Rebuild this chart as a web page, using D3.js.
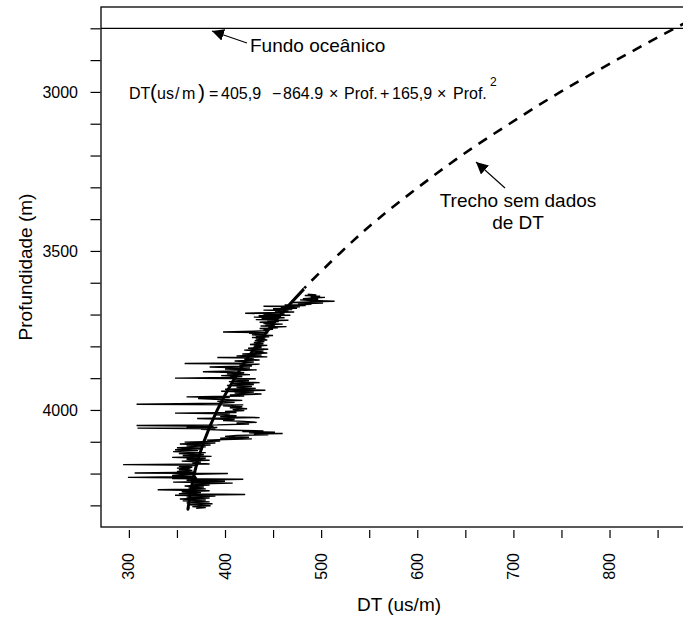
<!DOCTYPE html>
<html>
<head>
<meta charset="utf-8">
<script src="https://cdn.jsdelivr.net/npm/d3@7"></script>
<style>
  body { margin: 0; background: #fff; }
  text { font-family: "Liberation Sans", Arial, Helvetica, sans-serif; fill: #000; }
</style>
</head>
<body>
<svg id="chart" width="683" height="617"></svg>
<script>
// ---- Axis limits and ticks ----
const xLimits = [271, 891];          // DT (us/m)
const yLimits = [2733, 4368];        // depth (m), increasing downwards
const xTicks = [300, 350, 400, 450, 500, 550, 600, 650, 700, 750, 800, 850];
const xTickLabels = [300, 400, 500, 600, 700, 800];
const yTicks = [2800, 2900, 3000, 3100, 3200, 3300, 3400, 3500, 3600, 3700, 3800, 3900, 4000, 4100, 4200, 4300];
const yTickLabels = [3000, 3500, 4000];

// Sea floor depth (m)
const seaFloorDepth = 2800;

// ---- Fitted compaction trend: depth (m) -> DT (us/m) ----
// interval without sonic data (dashed)
const trendGapDepth = [2700, 2800, 2900, 3000, 3100, 3200, 3300, 3400, 3500, 3600, 3620];
const trendGapDT    = [933, 868, 807, 749, 696, 646, 601, 559, 522, 488, 482];
// interval covered by the sonic log (solid)
const trendLogDepth = [3620, 3700, 3800, 3900, 4000, 4100, 4200, 4300, 4306];
const trendLogDT    = [482, 458, 432, 410, 392, 378, 368, 362, 362];

// ---- Sonic log samples: [depth (m), DT (us/m)] ----
const sonicLog = [
  [3636,486],[3638,495],[3640,483],[3642,499],[3644,489],[3646,504],[3648,492],[3650,481],
  [3652,497],[3654,478],[3656,490],[3658,514],[3660,488],[3662,470],[3664,502],[3666,476],
  [3668,490],[3670,462],[3672,484],[3674,440],[3676,478],[3678,458],[3680,475],[3682,450],
  [3684,470],[3686,440],[3688,466],[3690,452],[3692,472],[3694,446],[3696,421],[3698,462],
  [3700,440],[3702,468],[3704,435],[3706,458],[3708,430],[3710,462],[3712,438],[3714,455],
  [3716,432],[3718,466],[3720,444],[3722,456],[3724,436],[3726,450],[3728,440],[3730,460],
  [3732,442],[3734,452],[3736,437],[3738,464],[3740,446],[3742,455],[3744,436],[3746,450],
  [3748,440],[3750,446],[3752,430],[3755,398],[3757,445],[3759,425],[3761,440],
  [3764,428],[3766,450],[3768,432],[3770,446],[3772,428],[3774,442],[3777,432],[3780,444],
  [3782,431],[3785,441],[3788,430],[3791,440],[3794,426],[3797,444],[3800,430],[3803,438],
  [3806,424],[3809,445],[3812,420],[3815,440],[3818,428],[3821,444],
  [3824,418],[3827,438],[3830,412],[3833,444],[3835,392],[3837,430],[3840,420],[3843,436],
  [3846,410],[3849,430],[3852,418],[3854,358],[3856,436],[3859,415],[3862,428],
  [3865,384],[3868,426],[3871,400],[3874,433],[3877,410],[3880,377],[3883,420],[3886,402],
  [3889,426],[3892,396],[3895,418],[3898,405],[3900,348],[3902,432],[3905,410],
  [3908,425],[3911,404],[3914,436],[3917,408],[3920,430],[3923,402],[3926,428],[3929,412],
  [3932,432],[3935,400],[3938,442],[3941,396],[3944,430],[3947,410],[3950,438],[3953,405],
  [3956,420],[3959,360],[3961,405],[3964,372],[3967,396],
  [3970,418],[3973,392],[3976,410],[3979,395],[3982,308],[3984,419],[3987,398],[3990,418],
  [3993,405],[3996,423],[3999,408],[4002,420],[4005,400],[4008,412],[4010,348],[4012,405],
  [4015,390],[4018,412],[4021,395],[4024,436],[4027,371],[4030,410],[4033,398],[4036,420],
  [4039,433],[4041,412],[4044,425],[4047,392],[4049,308],[4051,388],[4053,360],[4055,392],
  [4057,309],[4059,390],[4061,375],
  [4064,405],[4066,440],[4068,418],[4070,452],[4072,425],[4074,460],[4076,430],[4078,445],
  [4080,412],[4083,400],[4086,425],[4089,395],[4091,428],[4093,400],[4095,381],
  [4098,395],[4101,358],[4104,390],[4107,353],[4110,385],[4113,360],[4116,380],[4119,350],
  [4122,377],[4125,348],[4128,372],[4131,346],[4134,380],[4137,352],[4140,378],[4143,356],
  [4146,386],[4149,345],[4152,380],[4155,360],[4158,384],[4161,355],[4164,375],
  [4167,366],[4170,384],[4172,294],[4174,372],[4177,352],[4180,366],[4183,350],[4185,364],
  [4188,352],[4190,366],[4193,350],[4196,370],[4198,306],[4200,403],[4203,356],
  [4206,345],[4209,370],[4212,299],[4214,371],[4216,345],[4218,419],[4221,360],[4224,400],
  [4227,346],[4230,408],[4233,365],[4236,384],[4239,358],[4242,378],
  [4245,362],[4248,380],[4251,330],[4254,384],[4257,355],[4260,375],[4263,352],[4266,421],
  [4268,348],[4271,390],[4274,360],[4277,384],[4280,353],[4283,380],[4286,356],[4289,384],
  [4292,360],[4295,387],[4298,363],[4301,385],[4304,366],[4307,380],[4309,370]
];

// ---- Layout ----
const plot = { left: 101, right: 697, top: 7, bottom: 527 };

const svg = d3.select("#chart");

const x = d3.scaleLinear().domain(xLimits).range([plot.left, plot.right]);
const y = d3.scaleLinear().domain(yLimits).range([plot.top, plot.bottom]);

const defs = svg.append("defs");
defs.append("clipPath").attr("id", "plot-clip")
  .append("rect")
  .attr("x", plot.left).attr("y", plot.top)
  .attr("width", plot.right - plot.left).attr("height", plot.bottom - plot.top);

defs.append("marker")
  .attr("id", "arrow-head")
  .attr("viewBox", "0 0 10 10")
  .attr("refX", 10).attr("refY", 5)
  .attr("markerWidth", 12).attr("markerHeight", 12)
  .attr("markerUnits", "userSpaceOnUse")
  .attr("orient", "auto")
  .append("path").attr("d", "M0,0 L10,5 L0,10 z").attr("fill", "#000");

// ---- Axes ----
const yAxis = d3.axisLeft(y)
  .tickValues(yTicks)
  .tickSize(10)
  .tickFormat(() => "");
svg.append("g")
  .attr("transform", `translate(${plot.left - 0.5},0)`)
  .call(yAxis)
  .call(g => g.select(".domain").remove())
  .call(g => g.selectAll("line").attr("stroke", "#000").attr("stroke-width", 1.2));

svg.append("g").selectAll("text")
  .data(yTickLabels).join("text")
  .attr("x", 78).attr("y", d => y(d))
  .attr("dy", "0.35em")
  .attr("text-anchor", "end")
  .attr("font-size", 16)
  .text(d => d);

const xAxis = d3.axisBottom(x)
  .tickValues(xTicks)
  .tickSize(8)
  .tickFormat(() => "");
svg.append("g")
  .attr("transform", `translate(0,${plot.bottom + 3})`)
  .call(xAxis)
  .call(g => g.select(".domain").remove())
  .call(g => g.selectAll("line").attr("stroke", "#000").attr("stroke-width", 1.2));

svg.append("g").selectAll("text")
  .data(xTickLabels).join("text")
  .attr("transform", d => `translate(${x(d)},553) rotate(-90)`)
  .attr("dy", "0.35em")
  .attr("text-anchor", "end")
  .attr("font-size", 16)
  .text(d => d);

// Axis titles
svg.append("text")
  .attr("x", (plot.left + plot.right) / 2).attr("y", 611)
  .attr("text-anchor", "middle")
  .attr("font-size", 19)
  .text("DT (us/m)");

svg.append("text")
  .attr("transform", `translate(32,${(plot.top + plot.bottom) / 2}) rotate(-90)`)
  .attr("text-anchor", "middle")
  .attr("font-size", 19)
  .text("Profundidade (m)");

// ---- Plot content ----
const content = svg.append("g").attr("clip-path", "url(#plot-clip)");

// Sea floor
content.append("line")
  .attr("x1", plot.left).attr("x2", plot.right)
  .attr("y1", y(seaFloorDepth)).attr("y2", y(seaFloorDepth))
  .attr("stroke", "#000").attr("stroke-width", 1.2);

// Sonic log
const logLine = d3.line().x(d => x(d[1])).y(d => y(d[0]));
content.append("path")
  .datum(sonicLog)
  .attr("d", logLine)
  .attr("fill", "none")
  .attr("stroke", "#000")
  .attr("stroke-width", 1.4)
  .attr("stroke-linejoin", "miter");

// Trend curves
const trendLine = d3.line()
  .x(d => x(d[1])).y(d => y(d[0]))
  .curve(d3.curveNatural);

content.append("path")
  .datum(d3.zip(trendGapDepth, trendGapDT))
  .attr("d", trendLine)
  .attr("fill", "none")
  .attr("stroke", "#000")
  .attr("stroke-width", 2.6)
  .attr("stroke-dasharray", "10,8");

content.append("path")
  .datum(d3.zip(trendLogDepth, trendLogDT))
  .attr("d", trendLine)
  .attr("fill", "none")
  .attr("stroke", "#000")
  .attr("stroke-width", 3);

// Frame
svg.append("rect")
  .attr("x", plot.left).attr("y", plot.top)
  .attr("width", plot.right - plot.left).attr("height", plot.bottom - plot.top)
  .attr("fill", "none").attr("stroke", "#000").attr("stroke-width", 1.3);

// ---- Annotations ----
svg.append("line")
  .attr("x1", 247).attr("y1", 43).attr("x2", 212).attr("y2", 31)
  .attr("stroke", "#000").attr("stroke-width", 1.1)
  .attr("marker-end", "url(#arrow-head)");
svg.append("text")
  .attr("x", 250).attr("y", 52)
  .attr("font-size", 19)
  .text("Fundo oceânico");

svg.append("line")
  .attr("x1", 505).attr("y1", 188).attr("x2", 476).attr("y2", 162)
  .attr("stroke", "#000").attr("stroke-width", 1.1)
  .attr("marker-end", "url(#arrow-head)");
svg.append("text")
  .attr("x", 518).attr("y", 207)
  .attr("text-anchor", "middle")
  .attr("font-size", 19)
  .text("Trecho sem dados");
svg.append("text")
  .attr("x", 518).attr("y", 229)
  .attr("text-anchor", "middle")
  .attr("font-size", 19)
  .text("de DT");

// Trend equation, laid out piece by piece like a math expression
const eq = svg.append("g").attr("font-size", 16);
const eqBase = 99;
const eqParts = [
  { t: "DT", x: 129 },
  { t: "(", x: 150, size: 21 },
  { t: "us", x: 157 },
  { t: "/", x: 175 },
  { t: "m", x: 182 },
  { t: ")", x: 198, size: 21 },
  { t: "=", x: 209 },
  { t: "405,9", x: 221 },
  { t: "\u2212", x: 272 },
  { t: "864.9", x: 283 },
  { t: "\u00d7", x: 329 },
  { t: "Prof.", x: 344 },
  { t: "+", x: 380 },
  { t: "165,9", x: 392 },
  { t: "\u00d7", x: 437 },
  { t: "Prof.", x: 453 },
  { t: "2", x: 490, dy: -13, size: 12 }
];
eqParts.forEach(p => {
  eq.append("text")
    .attr("x", p.x)
    .attr("y", eqBase + (p.dy || 0))
    .attr("font-size", p.size || null)
    .text(p.t);
});
</script>
</body>
</html>
